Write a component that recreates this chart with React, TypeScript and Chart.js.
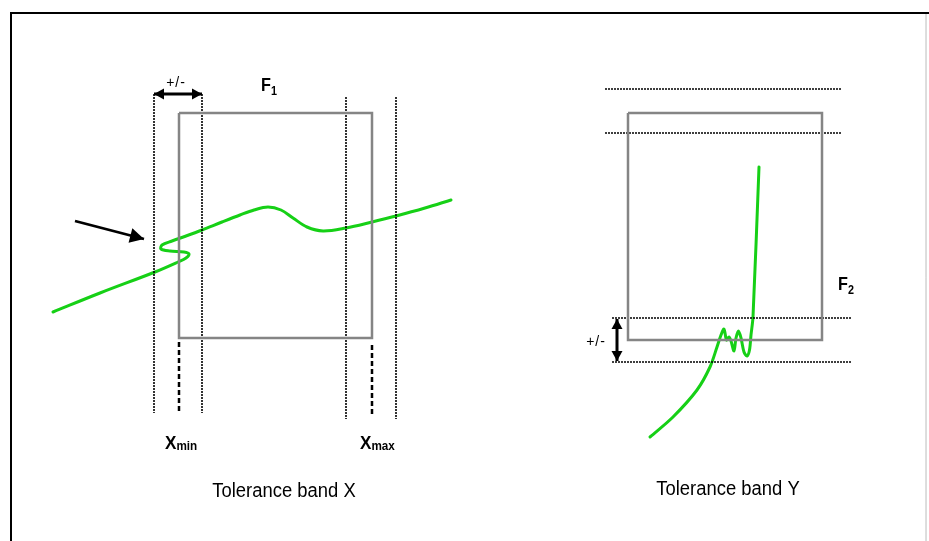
import React, { useEffect, useRef } from "react";
import { Chart, registerables } from "chart.js";
Chart.register(...registerables);

type P = { x: number; y: number };

// ---- data (diagram coordinates, x right, y down) ----
const frameTop: P[] = [{ x: 10, y: 13 }, { x: 929, y: 13 }];
const frameLeft: P[] = [{ x: 11, y: 12 }, { x: 11, y: 541 }];
const frameRight: P[] = [{ x: 926, y: 14 }, { x: 926, y: 541 }];

const boxX: P[] = [{ x: 179, y: 113 }, { x: 372, y: 113 }, { x: 372, y: 338 }, { x: 179, y: 338 }, { x: 179, y: 113 }];
const boxY: P[] = [{ x: 628, y: 113 }, { x: 822, y: 113 }, { x: 822, y: 340 }, { x: 628, y: 340 }, { x: 628, y: 113 }];

const dottedX1: P[] = [{ x: 154, y: 94 }, { x: 154, y: 413 }];
const dottedX2: P[] = [{ x: 202, y: 94 }, { x: 202, y: 413 }];
const dottedX3: P[] = [{ x: 346, y: 97 }, { x: 346, y: 419 }];
const dottedX4: P[] = [{ x: 396, y: 97 }, { x: 396, y: 419 }];

const dashedXmin: P[] = [{ x: 179, y: 342 }, { x: 179, y: 412 }];
const dashedXmax: P[] = [{ x: 372, y: 345 }, { x: 372, y: 417 }];

const dottedY1: P[] = [{ x: 605, y: 89 }, { x: 842, y: 89 }];
const dottedY2: P[] = [{ x: 605, y: 133 }, { x: 842, y: 133 }];
const dottedY3: P[] = [{ x: 612, y: 318 }, { x: 851, y: 318 }];
const dottedY4: P[] = [{ x: 612, y: 362 }, { x: 851, y: 362 }];

const pointerArrow: P[] = [{ x: 75, y: 221 }, { x: 144, y: 239 }];
const tolArrowX: P[] = [{ x: 154, y: 94 }, { x: 202, y: 94 }];
const tolArrowY: P[] = [{ x: 617, y: 319 }, { x: 617, y: 361 }];

const curveX: P[] = [
  { x: 53, y: 312 }, { x: 100, y: 293 }, { x: 155, y: 272 }, { x: 178, y: 262 },
  { x: 186, y: 258 }, { x: 189, y: 254 }, { x: 184, y: 252 }, { x: 170, y: 251 },
  { x: 161, y: 249 }, { x: 162, y: 245 }, { x: 172, y: 241 }, { x: 186, y: 236 },
  { x: 202, y: 230 }, { x: 222, y: 222 }, { x: 240, y: 215 }, { x: 254, y: 210 },
  { x: 268, y: 207 }, { x: 281, y: 210 }, { x: 293, y: 218 }, { x: 307, y: 227 },
  { x: 323, y: 231 }, { x: 346, y: 228 }, { x: 372, y: 222 }, { x: 396, y: 216 },
  { x: 425, y: 208 }, { x: 451, y: 200 },
];

const curveY: P[] = [
  { x: 650, y: 437 }, { x: 673, y: 417 }, { x: 697, y: 390 }, { x: 710, y: 367 },
  { x: 717, y: 347 }, { x: 721, y: 335 }, { x: 724, y: 329 }, { x: 726.5, y: 340 },
  { x: 729, y: 337 }, { x: 731, y: 341 }, { x: 734, y: 351 }, { x: 736, y: 338 },
  { x: 738.5, y: 331 }, { x: 741, y: 338 }, { x: 744, y: 352 }, { x: 747, y: 356 },
  { x: 749.5, y: 350 }, { x: 751, y: 335 }, { x: 753, y: 317 }, { x: 759, y: 167 },
];

// ---- text annotations ----
const labelTexts = ["+/-", "+/-", "Tolerance band X", "Tolerance band Y"];
const subLabels = [
  { main: "F", sub: "1" },
  { main: "F", sub: "2" },
  { main: "X", sub: "min" },
  { main: "X", sub: "max" },
];

const GREEN = "#16d016";
const GRAY = "#858585";
const FONT = "'Liberation Sans', Arial, sans-serif";

function line(data: P[], color: string, width: number, extra: any = {}) {
  return {
    data,
    showLine: true,
    borderColor: color,
    backgroundColor: color,
    borderWidth: width,
    pointRadius: 0,
    pointHoverRadius: 0,
    fill: false,
    tension: 0,
    clip: false,
    ...extra,
  };
}

const arrowPlugin = {
  id: "arrowHeads",
  afterDatasetsDraw(chart: any) {
    const ctx = chart.ctx;
    chart.data.datasets.forEach((ds: any, i: number) => {
      if (!ds.arrowHeads) return;
      const pts = chart.getDatasetMeta(i).data;
      const n = pts.length;
      const head = (tip: any, from: any) => {
        const ang = Math.atan2(tip.y - from.y, tip.x - from.x);
        const L = ds.headLen, W = ds.headHalf;
        ctx.save();
        ctx.translate(tip.x, tip.y);
        ctx.rotate(ang);
        ctx.beginPath();
        ctx.moveTo(0, 0);
        ctx.lineTo(-L, -W);
        ctx.lineTo(-L, W);
        ctx.closePath();
        ctx.fillStyle = "#000";
        ctx.fill();
        ctx.restore();
      };
      head(pts[n - 1], pts[n - 2]);
      if (ds.arrowHeads === "both") head(pts[0], pts[1]);
    });
  },
};

const textPlugin = {
  id: "diagramText",
  afterDraw(chart: any) {
    const ctx = chart.ctx;
    const sx = (v: number) => chart.scales.x.getPixelForValue(v);
    const sy = (v: number) => chart.scales.y.getPixelForValue(v);
    ctx.save();
    ctx.fillStyle = "#000";
    ctx.textBaseline = "alphabetic";

    // +/- labels
    ctx.font = `14px ${FONT}`;
    (ctx as any).letterSpacing = "1px";
    ctx.textAlign = "center";
    ctx.fillText(labelTexts[0], sx(176), sy(87));
    ctx.fillText(labelTexts[1], sx(596), sy(346));
    (ctx as any).letterSpacing = "0px";

    // captions
    ctx.save();
    ctx.font = `19px ${FONT}`;
    ctx.translate(sx(284), sy(497));
    ctx.scale(0.97, 1.05);
    ctx.fillText(labelTexts[2], 0, 0);
    ctx.restore();
    ctx.save();
    ctx.font = `19px ${FONT}`;
    ctx.translate(sx(728), sy(495));
    ctx.scale(0.97, 1.05);
    ctx.fillText(labelTexts[3], 0, 0);
    ctx.restore();

    // main + subscript labels
    const pos = [
      { x: 261, y: 91, big: 18, small: 12, dy: 4 },
      { x: 838, y: 290, big: 18, small: 12, dy: 4 },
      { x: 165, y: 449, big: 19, small: 13, dy: 1 },
      { x: 360, y: 449, big: 19, small: 13, dy: 1 },
    ];
    ctx.textAlign = "left";
    subLabels.forEach((l, i) => {
      const p = pos[i];
      const x = sx(p.x), y = sy(p.y);
      ctx.save();
      ctx.translate(x, y);
      ctx.scale(0.9, 1);
      ctx.font = `bold ${p.big}px ${FONT}`;
      ctx.fillText(l.main, 0, 0);
      const w = ctx.measureText(l.main).width;
      ctx.font = `bold ${p.small}px ${FONT}`;
      ctx.fillText(l.sub, w, p.dy);
      ctx.restore();
    });
    ctx.restore();
  },
};

export default function App() {
  const ref = useRef<HTMLCanvasElement | null>(null);
  useEffect(() => {
    if (!ref.current) return;
    const dot = { borderDash: [2, 1] };
    const chart = new Chart(ref.current, {
      type: "scatter",
      data: {
        datasets: [
          line(frameTop, "#000", 2),
          line(frameLeft, "#000", 2),
          line(frameRight, "#d8d8d8", 1),
          line(boxX, GRAY, 2.5),
          line(boxY, GRAY, 2.5),
          line(dottedX1, "#000", 1.6, dot),
          line(dottedX2, "#000", 1.6, dot),
          line(dottedX3, "#000", 1.6, dot),
          line(dottedX4, "#000", 1.6, dot),
          line(dottedY1, "#000", 1.6, dot),
          line(dottedY2, "#000", 1.6, dot),
          line(dottedY3, "#000", 1.6, dot),
          line(dottedY4, "#000", 1.6, dot),
          line(dashedXmin, "#000", 2.5, { borderDash: [5, 3] }),
          line(dashedXmax, "#000", 2.5, { borderDash: [5, 3] }),
          line(curveX, GREEN, 3, { tension: 0.35, borderCapStyle: "round", borderJoinStyle: "round" }),
          line(curveY, GREEN, 3, { tension: 0.3, borderCapStyle: "round", borderJoinStyle: "round" }),
          line(pointerArrow, "#000", 2.8, { arrowHeads: "end", headLen: 14, headHalf: 7.5 }),
          line(tolArrowX, "#000", 3, { arrowHeads: "both", headLen: 10, headHalf: 5.5 }),
          line(tolArrowY, "#000", 3, { arrowHeads: "both", headLen: 10, headHalf: 5.5 }),
        ] as any,
      },
      options: {
        animation: false,
        responsive: false,
        maintainAspectRatio: false,
        devicePixelRatio: 1,
        layout: { padding: 0 },
        events: [],
        plugins: { legend: { display: false }, tooltip: { enabled: false } },
        scales: {
          x: { type: "linear", min: 0, max: 929, display: false },
          y: { type: "linear", min: 0, max: 541, reverse: true, display: false },
        },
      } as any,
      plugins: [arrowPlugin, textPlugin],
    });
    return () => chart.destroy();
  }, []);
  return (
    <div style={{ position: "fixed", left: 0, top: 0, width: 929, height: 541, background: "#fff" }}>
      <canvas ref={ref} width={929} height={541} style={{ display: "block" }} />
    </div>
  );
}
